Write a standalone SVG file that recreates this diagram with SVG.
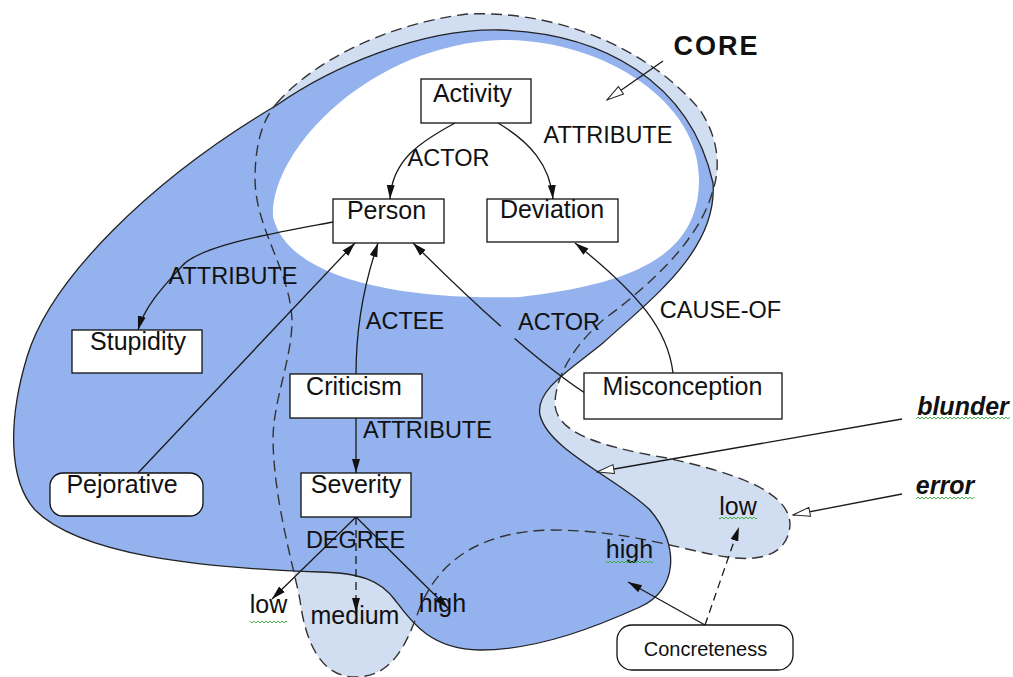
<svg xmlns="http://www.w3.org/2000/svg" width="1013" height="677" viewBox="0 0 1013 677">
<style>
.node{fill:#fff;stroke:#111;stroke-width:1.3}
.nt{font-family:"Liberation Sans",Arial,sans-serif;font-size:25px;fill:#111;text-anchor:middle}
.lb{font-family:"Liberation Sans",Arial,sans-serif;font-size:23.5px;fill:#111;text-anchor:middle}
.bi{font-family:"Liberation Sans",Arial,sans-serif;font-size:25px;font-weight:bold;font-style:italic;fill:#111;text-anchor:middle}
.c{fill:none;stroke:#1a1a1a;stroke-width:1.3}
.d{stroke-dasharray:8 5}
.wavy{fill:url(#wv)}
</style>
<defs>
<marker id="fa" viewBox="0 0 14 10" refX="14" refY="5" markerWidth="14" markerHeight="10" markerUnits="userSpaceOnUse" orient="auto"><path d="M0,1 L14,5 L0,9 Z" fill="#111"/></marker>
<marker id="ha" viewBox="0 0 19 12" refX="18" refY="6" markerWidth="19" markerHeight="12" markerUnits="userSpaceOnUse" orient="auto"><path d="M1,1.5 L18,6 L1,10.5 Z" fill="#fff" stroke="#222" stroke-width="1"/></marker>
<pattern id="wv" x="0" y="0" width="4" height="4" patternUnits="userSpaceOnUse"><polyline points="0,3 2,1 4,3" fill="none" stroke="#3a3" stroke-width="0.9"/></pattern>
</defs>

<g id="regions">
<path id="error-region" d="M277,103 C310,65 380,25 467,14 C560,10 650,50 700,110 C720,140 720,170 713,190 C700,240 650,285 603,320 C575,345 555,375 555,405 C557,430 590,445 667,458 C730,472 790,490 790,525 C788,555 760,562 727,557 C680,550 630,530 550,530 C480,532 440,560 420,607 C405,650 390,677 355,677 C320,677 305,640 300,600 C292,560 274,500 273,440 C273,400 292,360 292,320 C290,270 256,230 255,180 C255,145 262,120 277,103 Z" fill="#d1ddf1"/>
<path id="blunder-region" d="M277,105 C330,68 420,28 500,30 C600,33 690,80 713,183 C718,250 650,300 603,343 C570,370 535,390 540,415 C548,450 620,480 650,510 C680,545 678,590 640,607 C600,625 540,650 480,650 C430,650 410,620 395,600 C380,580 360,573 320,572 C200,568 80,555 35,510 C8,480 8,420 27,357 C50,280 150,180 277,105 Z" fill="#93b2ee" stroke="#222" stroke-width="1.3"/>
<path id="core-region" d="M273,217 C270,150 370,45 500,40 C600,38 700,100 699,180 C699,262 620,285 520,297 C420,300 290,285 273,217 Z" fill="#fff"/>
<path id="error-outline" d="M277,103 C310,65 380,25 467,14 C560,10 650,50 700,110 C720,140 720,170 713,190 C700,240 650,285 603,320 C575,345 555,375 555,405 C557,430 590,445 667,458 C730,472 790,490 790,525 C788,555 760,562 727,557 C680,550 630,530 550,530 C480,532 440,560 420,607 C405,650 390,677 355,677 C320,677 305,640 300,600 C292,560 274,500 273,440 C273,400 292,360 292,320 C290,270 256,230 255,180 C255,145 262,120 277,103 Z" fill="none" stroke="#333" stroke-width="1.4" stroke-dasharray="11 6"/>
</g>

<g id="connectors">
<path class="c" d="M455,123 C420,142 392,160 390,199" marker-end="url(#fa)"/>
<path class="c" d="M498,123 C530,142 550,165 553,199" marker-end="url(#fa)"/>
<path class="c" d="M333,222 C280,232 200,245 182,266 C165,285 145,305 138,330" marker-end="url(#fa)"/>
<path class="c" d="M138,473 L355,243" marker-end="url(#fa)"/>
<path class="c" d="M356,374 C356,330 362,290 378,243" marker-end="url(#fa)"/>
<path class="c" d="M585,393 Q554.5,372.8 514.6,338.4"/>
<path class="c" d="M500.8,326.3 Q461.2,291.2 413,243" marker-end="url(#fa)"/>
<path class="c" d="M673,373 C668,330 640,295 575,243" marker-end="url(#fa)"/>
<path class="c" d="M356,418 L356,473" marker-end="url(#fa)"/>
<path class="c" d="M356,517 L272,599" marker-end="url(#fa)"/>
<path class="c d" d="M356,517 L356,612" marker-end="url(#fa)"/>
<path class="c" d="M356,517 L448,608" marker-end="url(#fa)"/>
<path class="c" d="M663,61 L607,100" marker-end="url(#ha)"/>
<path class="c" d="M902,419 L597,472" marker-end="url(#ha)"/>
<path class="c" d="M902,494 L793,515" marker-end="url(#ha)"/>
<path class="c" d="M705,625 L628,582" marker-end="url(#fa)"/>
<path class="c d" d="M705,625 L739,527" marker-end="url(#fa)"/>
</g>

<g id="n-activity"><rect class="node" x="421" y="79" width="110" height="44"/><text class="nt" x="472.5" y="102">Activity</text></g>
<g id="n-person"><rect class="node" x="333" y="199" width="111" height="44"/><text class="nt" x="386.5" y="219">Person</text></g>
<g id="n-deviation"><rect class="node" x="487" y="199" width="131" height="43"/><text class="nt" x="552" y="218">Deviation</text></g>
<g id="n-stupidity"><rect class="node" x="72" y="330" width="130" height="43"/><text class="nt" x="138" y="350">Stupidity</text></g>
<g id="n-criticism"><rect class="node" x="290" y="374" width="132" height="44"/><text class="nt" x="354" y="395">Criticism</text></g>
<g id="n-misconception"><rect class="node" x="584" y="373" width="198" height="46"/><text class="nt" x="682.5" y="395">Misconception</text></g>
<g id="n-pejorative"><rect class="node" x="50" y="473" width="153" height="43" rx="13"/><text class="nt" x="122" y="493">Pejorative</text></g>
<g id="n-severity"><rect class="node" x="301" y="473" width="110" height="44"/><text class="nt" x="356" y="493">Severity</text></g>
<g id="n-concreteness"><rect class="node" x="617" y="625" width="176" height="45" rx="15"/><text class="nt" x="705.5" y="656" style="font-size:20px">Concreteness</text></g>

<g id="labels">
<text class="lb" x="448.5" y="166">ACTOR</text>
<text class="lb" x="608" y="143">ATTRIBUTE</text>
<text class="lb" x="233" y="284">ATTRIBUTE</text>
<text class="lb" x="405" y="329">ACTEE</text>
<text class="lb" x="559" y="330">ACTOR</text>
<text class="lb" x="720.5" y="318">CAUSE-OF</text>
<text class="lb" x="427.5" y="438">ATTRIBUTE</text>
<text class="lb" x="355.5" y="548">DEGREE</text>
<text class="nt" x="268.5" y="613">low</text>
<text class="nt" x="355" y="624">medium</text>
<text class="nt" x="442.5" y="612">high</text>
<text class="nt" x="738" y="515">low</text>
<text class="nt" x="629.5" y="558">high</text>
<text class="bi" x="963" y="415">blunder</text>
<text class="bi" x="945" y="494">error</text>
<text x="716.5" y="55" style="font-family:'Liberation Sans',Arial,sans-serif;font-size:27px;font-weight:bold;letter-spacing:2px;fill:#111;text-anchor:middle">CORE</text>
<rect class="wavy" x="250" y="619" width="37" height="4"/>
<rect class="wavy" x="719" y="516" width="38" height="4"/>
<rect class="wavy" x="606" y="559" width="47" height="4"/>
<rect class="wavy" x="916" y="417" width="94" height="4"/>
<rect class="wavy" x="916" y="495" width="58" height="4"/>
</g>
</svg>
